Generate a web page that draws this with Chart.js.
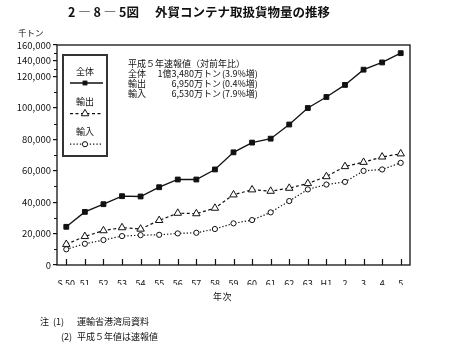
<!DOCTYPE html>
<html>
<head>
<meta charset="utf-8">
<script src="https://cdn.jsdelivr.net/npm/chart.js@4/dist/chart.umd.min.js"></script>
<style>
  html, body { margin: 0; padding: 0; background: #fff; }
  #wrap { position: relative; width: 459px; height: 352px; overflow: hidden; font-family: "Noto Sans CJK JP", sans-serif; color: #111; }
  #wrap canvas { position: absolute; left: 0; top: 0; }
  .t { position: absolute; white-space: pre; line-height: 1; }
  .title { top: 6px; font-size: 12.5px; font-weight: bold; }
  .unit { left: 18px; top: 28px; font-size: 8.5px; }
  .xname { left: 213px; top: 292px; font-size: 9px; letter-spacing: 0.5px; }
  .note { font-size: 9px; }
  .ann { font-size: 9px; }
</style>
</head>
<body>
<div id="wrap">
  <canvas id="chart" width="459" height="352"></canvas>
  <div class="t title" style="left:68px;">2 ― 8 ― 5図</div>
  <div class="t title" style="left:155px;">外貿コンテナ取扱貨物量の推移</div>
  <div class="t unit">千トン</div>
  <div class="t ann" style="left:128px;top:59px;">平成５年速報値（対前年比）</div>
  <div class="t ann" style="left:128px;top:69px;">全体</div>
  <div class="t ann" style="right:238px;top:69px;">1億3,480万トン</div>
  <div class="t ann" style="left:222px;top:69px;">(3.9%増)</div>
  <div class="t ann" style="left:128px;top:79px;">輸出</div>
  <div class="t ann" style="right:238px;top:79px;">6,950万トン</div>
  <div class="t ann" style="left:222px;top:79px;">(0.4%増)</div>
  <div class="t ann" style="left:128px;top:89px;">輸入</div>
  <div class="t ann" style="right:238px;top:89px;">6,530万トン</div>
  <div class="t ann" style="left:222px;top:89px;">(7.9%増)</div>
  <div class="t xname">年次</div>
  <div class="t note" style="left:40px;top:317px;">注</div>
  <div class="t note" style="left:53px;top:317px;">(1)</div>
  <div class="t note" style="left:77px;top:317px;">運輸省港湾局資料</div>
  <div class="t note" style="left:61px;top:332px;">(2)</div>
  <div class="t note" style="left:77px;top:332px;">平成５年値は速報値</div>
</div>
<script>
// 年次（昭和50年～平成5年）
const years = ['S 50', '51', '52', '53', '54', '55', '56', '57', '58', '59', '60', '61', '62', '63', 'H1', '2', '3', '4', '5'];

// 千トン
const totalVals  = [24300, 33800, 38700, 43800, 43600, 49500, 54400, 54400, 60800, 71700, 77900, 80400, 89400, 99900, 106900, 114600, 124300, 128900, 134800];
const exportVals = [13200, 18200, 21900, 23800, 22900, 28400, 33000, 32700, 36200, 44700, 47900, 47000, 48900, 51900, 56300, 62700, 65400, 68800, 70800];
const importVals = [10000, 13500, 15900, 18400, 19000, 19200, 20100, 20500, 22900, 26500, 28600, 33500, 40700, 48100, 51200, 52900, 59900, 60800, 65000];

// 目盛（原図では120,000より上の目盛間隔が詰まっている）
const yTickVals   = [0, 20000, 40000, 60000, 80000, 100000, 120000, 130000, 140000];
const yTickLabels = ['0', '20,000', '40,000', '60,000', '80,000', '100,000', '120,000', '140,000', '160,000'];

const INK = '#111';

function drawMarker(ctx, style, r, x, y) {
  ctx.beginPath();
  if (style === 'rect') {
    const s = r * Math.SQRT1_2;
    ctx.rect(x - s, y - s, 2 * s, 2 * s);
    ctx.fillStyle = INK;
    ctx.fill();
  } else if (style === 'triangle') {
    for (let k = 0; k < 3; k++) {
      const a = k * 2 * Math.PI / 3;
      const px = x + Math.sin(a) * r, py = y - Math.cos(a) * r;
      k ? ctx.lineTo(px, py) : ctx.moveTo(px, py);
    }
    ctx.closePath();
    ctx.fillStyle = '#fff';
    ctx.fill();
    ctx.stroke();
  } else {
    ctx.arc(x, y, r, 0, Math.PI * 2);
    ctx.fillStyle = '#fff';
    ctx.fill();
    ctx.stroke();
  }
}

// 枠・内向き目盛・凡例
const framePlugin = {
  id: 'frame',
  afterDraw(chart) {
    const { ctx, chartArea: a, scales: { x, y } } = chart;
    ctx.save();
    ctx.strokeStyle = INK;
    ctx.lineWidth = 1.3;
    ctx.strokeRect(a.left, a.top, a.right - a.left, a.bottom - a.top);

    ctx.lineWidth = 1.2;
    ctx.beginPath();
    x.ticks.forEach((t, i) => {
      const px = Math.round(x.getPixelForTick(i)) + 0.5;
      ctx.moveTo(px, a.bottom);
      ctx.lineTo(px, a.bottom - 6);
    });
    for (let i = 0; i < y.ticks.length - 1; i++) {
      const py = Math.round((y.getPixelForTick(i) + y.getPixelForTick(i + 1)) / 2) + 0.5;
      ctx.moveTo(a.left - 3, py);
      ctx.lineTo(a.left, py);
    }
    ctx.stroke();

    // 凡例
    const bx = a.left + 6, by = a.top + 10, bw = 44, bh = 101;
    ctx.lineWidth = 2;
    ctx.strokeStyle = '#333';
    ctx.strokeRect(bx, by, bw, bh);
    ctx.font = '9px "Noto Sans CJK JP"';
    ctx.textAlign = 'center';
    ctx.textBaseline = 'middle';
    chart.data.datasets.forEach((ds, i) => {
      const cx = bx + bw / 2;
      const ty = by + 17 + i * 29.7;
      const ly = by + 28 + i * 30.6;
      ctx.fillStyle = INK;
      ctx.fillText(ds.label, cx, ty);
      ctx.strokeStyle = INK;
      ctx.lineWidth = ds.borderWidth;
      ctx.setLineDash(ds.borderDash || []);
      ctx.beginPath();
      ctx.moveTo(bx + 7, ly);
      ctx.lineTo(bx + bw - 4, ly);
      ctx.stroke();
      ctx.setLineDash([]);
      ctx.lineWidth = 1;
      drawMarker(ctx, ds.pointStyle, ds.pointRadius, cx, ly);
    });
    ctx.restore();
  }
};

const common = {
  borderColor: INK,
  pointBorderColor: INK,
  pointBorderWidth: 1,
  tension: 0,
  fill: false,
};

new Chart(document.getElementById('chart'), {
  type: 'line',
  data: {
    labels: years,
    datasets: [
      { ...common, label: '全体', data: totalVals, borderWidth: 1.3, pointStyle: 'rect', pointRadius: 3.4, pointBackgroundColor: INK },
      { ...common, label: '輸出', data: exportVals, borderWidth: 1.2, borderDash: [3, 2.5], pointStyle: 'triangle', pointRadius: 4.3, pointBackgroundColor: '#fff' },
      { ...common, label: '輸入', data: importVals, borderWidth: 1.2, borderDash: [1.3, 2], pointStyle: 'circle', pointRadius: 2.6, pointBackgroundColor: '#fff' },
    ],
  },
  options: {
    responsive: false,
    animation: false,
    devicePixelRatio: 1,
    layout: { padding: { left: 0, top: 45, right: 49, bottom: 67 } },
    plugins: { legend: { display: false }, tooltip: { enabled: false } },
    scales: {
      x: {
        offset: true,
        grid: { display: false },
        border: { display: false },
        ticks: { color: INK, padding: 5, maxRotation: 0, autoSkip: false, font: { family: 'Noto Sans CJK JP', size: 9 } },
        afterFit: s => { s.height = 20; },
      },
      y: {
        min: 0,
        max: 140000,
        afterBuildTicks: s => { s.ticks = yTickVals.map(v => ({ value: v })); },
        grid: { display: true, drawOnChartArea: false, drawTicks: true, tickLength: 4, color: INK, lineWidth: 1.2 },
        border: { display: false },
        ticks: { color: INK, padding: 2, autoSkip: false, font: { family: 'Noto Sans CJK JP', size: 9.5 }, callback: (v, i) => yTickLabels[i] },
        afterFit: s => { s.width = 57; },
      },
    },
  },
  plugins: [framePlugin],
});
</script>
</body>
</html>
